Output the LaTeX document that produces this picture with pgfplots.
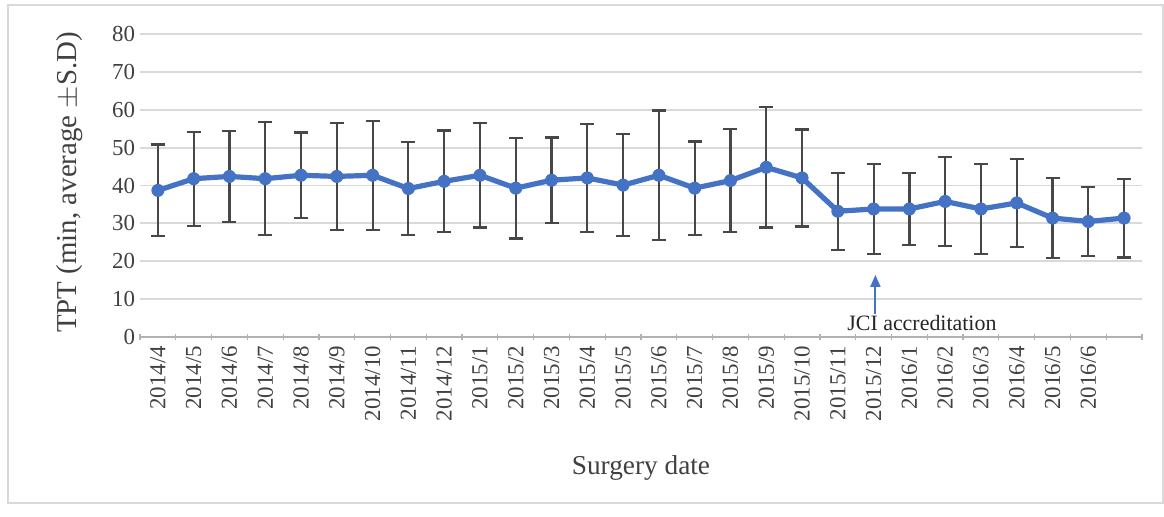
\documentclass[border=0pt]{standalone}
\usepackage{pgfplots}
\pgfplotsset{compat=1.18}
\usepackage{pgfplotstable}
\usetikzlibrary{arrows.meta}
\usepackage{fontspec}
\setmainfont{Liberation Serif}

\definecolor{xlblue}{HTML}{4472C4}
\definecolor{errgray}{HTML}{474747}
\definecolor{gridgray}{HTML}{D9D9D9}

% x = month index, y = mean TPT, e = S.D.
\pgfplotstableread{
x  y     e
0  38.7  12.1
1  41.8  12.4
2  42.4  12.0
3  41.8  14.9
4  42.7  11.3
5  42.4  14.1
6  42.7  14.4
7  39.2  12.3
8  41.1  13.4
9  42.7  13.8
10 39.3  13.3
11 41.4  11.3
12 42.0  14.2
13 40.1  13.4
14 42.7  17.1
15 39.3  12.3
16 41.3  13.6
17 44.8  15.9
18 42.0  12.8
19 33.2  10.2
20 33.8  11.8
21 33.8  9.6
22 35.8  11.8
23 33.8  11.8
24 35.4  11.7
25 31.4  10.6
26 30.5  9.2
27 31.4  10.4
}\tpt

\begin{document}
\begin{tikzpicture}
\useasboundingbox (0,0) rectangle (582bp,258.5bp);
\draw[gridgray, line width=0.8bp] (4bp,7bp) rectangle (581.5bp,256bp);
\begin{axis}[
    at={(70bp,90bp)}, anchor=south west,
    scale only axis,
    width=501bp, height=151.5bp,
    xmin=-0.5, xmax=27.5,
    ymin=0, ymax=80,
    ytick={0,10,...,80},
    xtick={0,...,26},
    xticklabels={2014/4,2014/5,2014/6,2014/7,2014/8,2014/9,2014/10,2014/11,2014/12,
      2015/1,2015/2,2015/3,2015/4,2015/5,2015/6,2015/7,2015/8,2015/9,2015/10,2015/11,2015/12,
      2016/1,2016/2,2016/3,2016/4,2016/5,2016/6},
    minor xtick={-0.5,0.5,...,27.5},
    major tick length=0pt,
    minor tick length=3bp,
    tick align=inside,
    tick style={draw=gray!60, line width=0.6bp},
    axis x line=bottom, axis y line=left,
    x axis line style={-, draw=gray!60, line width=0.8bp},
    y axis line style={draw=none},
    ymajorgrids, grid style={draw=gridgray, line width=0.9bp},
    /pgf/number format/assume math mode=true,
    tick label style={font=\fontsize{11.5}{13}\selectfont, text=black!75},
    yticklabel style={xshift=1bp},
    xticklabel style={rotate=90, anchor=east, xshift=-1bp},
    xlabel={Surgery date},
    ylabel={TPT (min, average $\pm$S.D)},
    label style={text=black!75},
    xlabel style={font=\fontsize{13.7}{15}\selectfont, at={(axis description cs:0.5,-0.432)}, anchor=center},
    ylabel style={font=\fontsize{14.5}{16}\selectfont, at={(axis description cs:-0.07,0.51)}, anchor=center, rotate=0},
    clip=false,
]
\addplot[
    color=xlblue, line width=2.6bp,
    mark=*, mark size=3bp, mark options={fill=xlblue, draw=xlblue, line width=0.5bp},
    error bars/.cd, y dir=both, y explicit,
    error bar style={draw=errgray, line width=1.1bp},
    error mark options={rotate=90, draw=errgray, mark size=3.5bp, line width=1.1bp},
] table[x=x, y=y, y error=e] {\tpt};
\draw[-{Triangle[width=5bp,length=6bp]}, xlblue, line width=1bp]
    (axis cs:20.05,1.3) -- (axis cs:20.05,16.4);
\node[font=\fontsize{11}{12}\selectfont, text=black!85, fill=white, inner sep=1bp]
    at (axis cs:21.35,3.6) {JCI accreditation};
\end{axis}
\end{tikzpicture}
\end{document}
